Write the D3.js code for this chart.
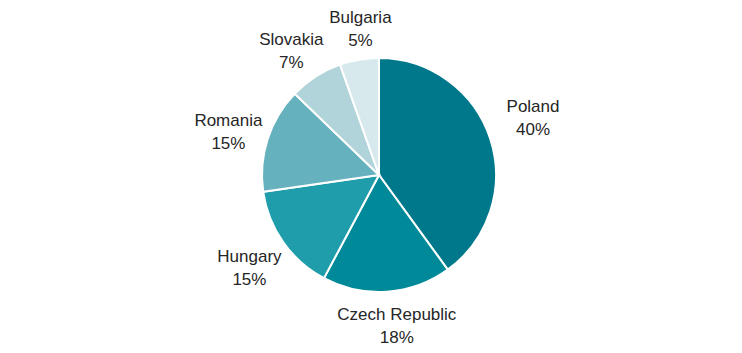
<!DOCTYPE html>
<html>
<head>
<meta charset="utf-8">
<script src="https://cdn.jsdelivr.net/npm/d3@7"></script>
<style>
  body { margin: 0; background: #fff; }
  text { font-family: "Liberation Sans", Arial, sans-serif; }
</style>
</head>
<body>
<div id="chart"></div>
<script>
// slices, clockwise from 12 o'clock
const countries = ["Poland", "Czech Republic", "Hungary", "Romania", "Slovakia", "Bulgaria"];
const shares = [40.0, 17.8, 14.9, 14.5, 7.4, 5.4];
const colors = ["#00788c", "#008a99", "#1f9dab", "#66b1be", "#b0d4da", "#d7e9ed"];

const width = 742, height = 353;
const cx = 379, cy = 175, radius = 117;

// small hand nudges so labels land where the original put them
const nudge = {
    "Poland": [9, -12], "Czech Republic": [5, 4], "Hungary": [0, 8],
    "Romania": [2, 1], "Slovakia": [-2, -1], "Bulgaria": [8, -2]
};

const svg = d3.select("#chart")
    .append("svg")
        .attr("width", width)
        .attr("height", height);

const g = svg.append("g")
    .attr("transform", "translate(" + cx + "," + cy + ")");

const pie = d3.pie().sort(null).value(d => d.v);
const arcs = pie(countries.map((c, i) => ({name: c, v: shares[i], color: colors[i]})));

const arc = d3.arc().innerRadius(0).outerRadius(radius);

g.selectAll("path")
    .data(arcs)
    .enter()
    .append("path")
        .attr("d", arc)
        .style("fill", d => d.data.color)
        .style("stroke", "#fff")
        .style("stroke-width", 2);

// labels sit just outside the rim, pushed out by half their box
const anchorR = radius + 9;
const fontSize = 17, lineH = 23;

const labels = g.selectAll("g.lbl")
    .data(arcs)
    .enter()
    .append("g")
        .attr("class", "lbl");

labels.each(function(d) {
    const lg = d3.select(this);
    const t = lg.append("text")
        .attr("text-anchor", "middle")
        .style("font-size", fontSize + "px")
        .style("fill", "#262626");
    t.append("tspan").attr("x", 0).attr("y", -lineH / 2 + 6).text(d.data.name);
    t.append("tspan").attr("x", 0).attr("y", lineH / 2 + 6).text(Math.round(d.data.v) + "%");

    const w = t.node().getBBox().width;
    const h = lineH * 2 - 4;
    const a = (d.startAngle + d.endAngle) / 2;
    const n = nudge[d.data.name];
    const x = Math.sin(a) * (anchorR + w / 2) + n[0];
    const y = -Math.cos(a) * (anchorR + h / 2) + n[1];
    lg.attr("transform", "translate(" + x + "," + y + ")");
});
</script>
</body>
</html>
